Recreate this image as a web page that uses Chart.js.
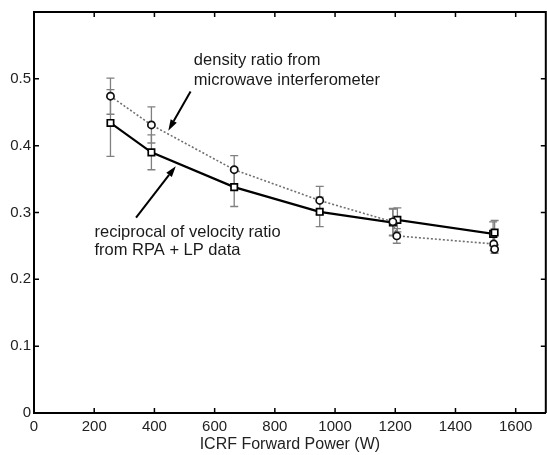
<!DOCTYPE html>
<html><head><meta charset="utf-8">
<script src="https://cdn.jsdelivr.net/npm/chart.js@4"></script>
<style>html,body{margin:0;padding:0;background:#fff;overflow:hidden}#wrap{width:552px;height:455px}</style>
</head><body><div id="wrap"><canvas id="c" width="552" height="455"></canvas></div>
<script>
// tick labels
const xTicks = [0, 200, 400, 600, 800, 1000, 1200, 1400, 1600];
const yTicks = [0, 0.1, 0.2, 0.3, 0.4, 0.5];

// density ratio from microwave interferometer (circles, dotted)
const densityX   = [254, 390, 665, 949, 1192, 1205, 1527, 1530];
const densityY   = [0.474, 0.431, 0.364, 0.318, 0.286, 0.265, 0.253, 0.245];
const densityErr = [0.027, 0.027, 0.021, 0.021, 0.020, 0.011, 0.010, 0.006];

// reciprocal of velocity ratio from RPA + LP data (squares, solid)
const velocityX   = [254, 390, 665, 949, 1192, 1207, 1525, 1530];
const velocityY   = [0.434, 0.390, 0.338, 0.301, 0.285, 0.289, 0.268, 0.270];
const velocityErr = [0.050, 0.026, 0.029, 0.022, 0.020, 0.018, 0.018, 0.018];

const FONT = 'Liberation Sans, Arial, sans-serif';

const annotations = [
  { lines: ['density ratio from', 'microwave interferometer'], x: 531, y: 0.528, dy: 0.0298,
    arrowFrom: { x: 520, y: 0.481 }, arrowTo: { x: 446, y: 0.4225 } },
  { lines: ['reciprocal of velocity ratio', 'from RPA + LP data'], x: 201, y: 0.2694, dy: 0.0268,
    arrowFrom: { x: 339, y: 0.2922 }, arrowTo: { x: 471, y: 0.3693 } }
];

const errSets = [
  { X: densityX, Y: densityY, E: densityErr },
  { X: velocityX, Y: velocityY, E: velocityErr }
];

const framePlugin = {
  id: 'frame',
  beforeDatasetsDraw(chart) {
    const { ctx, scales: { x, y } } = chart;
    ctx.save();
    ctx.strokeStyle = '#808080';
    ctx.lineWidth = 1.3;
    errSets.forEach(s => {
      s.X.forEach((xv, i) => {
        const px = x.getPixelForValue(xv);
        const top = y.getPixelForValue(s.Y[i] + s.E[i]);
        const bot = y.getPixelForValue(s.Y[i] - s.E[i]);
        ctx.beginPath();
        ctx.moveTo(px, top); ctx.lineTo(px, bot);
        ctx.moveTo(px - 4, top); ctx.lineTo(px + 4, top);
        ctx.moveTo(px - 4, bot); ctx.lineTo(px + 4, bot);
        ctx.stroke();
      });
    });
    ctx.restore();
  },
  afterDraw(chart) {
    const { ctx, chartArea: a, scales: { x, y } } = chart;
    ctx.save();
    ctx.strokeStyle = '#000';
    ctx.lineWidth = 2;
    ctx.beginPath();
    ctx.moveTo(a.left - 1, a.top); ctx.lineTo(a.right, a.top); ctx.lineTo(a.right, a.bottom);
    ctx.stroke();
    ctx.lineWidth = 1.5;
    ctx.beginPath();
    xTicks.forEach(v => {
      const px = x.getPixelForValue(v);
      ctx.moveTo(px, a.bottom); ctx.lineTo(px, a.bottom - 5);
      ctx.moveTo(px, a.top); ctx.lineTo(px, a.top + 5);
    });
    yTicks.forEach(v => {
      const py = y.getPixelForValue(v);
      ctx.moveTo(a.left, py); ctx.lineTo(a.left + 5, py);
      ctx.moveTo(a.right, py); ctx.lineTo(a.right - 5, py);
    });
    ctx.stroke();

    // annotations
    ctx.fillStyle = '#1a1a1a';
    ctx.font = '16.5px ' + FONT;
    ctx.textAlign = 'left';
    ctx.textBaseline = 'middle';
    annotations.forEach(an => {
      an.lines.forEach((t, i) => {
        ctx.fillText(t, x.getPixelForValue(an.x), y.getPixelForValue(an.y - i * an.dy));
      });
      const x1 = x.getPixelForValue(an.arrowFrom.x), y1 = y.getPixelForValue(an.arrowFrom.y);
      const x2 = x.getPixelForValue(an.arrowTo.x), y2 = y.getPixelForValue(an.arrowTo.y);
      const ang = Math.atan2(y2 - y1, x2 - x1);
      const L = 11, W = 3.5;
      const bx = x2 - L * Math.cos(ang), by = y2 - L * Math.sin(ang);
      ctx.strokeStyle = '#000';
      ctx.lineWidth = 2;
      ctx.beginPath(); ctx.moveTo(x1, y1); ctx.lineTo(bx, by); ctx.stroke();
      ctx.fillStyle = '#000';
      ctx.beginPath();
      ctx.moveTo(x2, y2);
      ctx.lineTo(bx + W * Math.sin(ang), by - W * Math.cos(ang));
      ctx.lineTo(bx - W * Math.sin(ang), by + W * Math.cos(ang));
      ctx.closePath(); ctx.fill();
      ctx.fillStyle = '#1a1a1a';
    });
    ctx.restore();
  }
};

new Chart(document.getElementById('c'), {
  type: 'scatter',
  data: {
    datasets: [
      {
        label: 'density ratio from microwave interferometer',
        data: densityX.map((v, i) => ({ x: v, y: densityY[i] })),
        showLine: true,
        borderColor: '#707070',
        borderWidth: 1.6,
        borderDash: [2, 2],
        pointStyle: 'circle',
        pointRadius: 3.6,
        pointBorderColor: '#111',
        pointBorderWidth: 1.7,
        pointBackgroundColor: '#fff'
      },
      {
        label: 'reciprocal of velocity ratio from RPA + LP data',
        data: velocityX.map((v, i) => ({ x: v, y: velocityY[i] })),
        showLine: true,
        borderColor: '#000',
        borderWidth: 2.2,
        pointStyle: 'rect',
        pointRadius: 4.5,
        pointBorderColor: '#000',
        pointBorderWidth: 1.7,
        pointBackgroundColor: '#fff'
      }
    ]
  },
  options: {
    responsive: false,
    animation: false,
    events: [],
    layout: { padding: { left: 0, top: 9, right: 3, bottom: 0 } },
    plugins: { legend: { display: false }, tooltip: { enabled: false } },
    scales: {
      x: {
        type: 'linear', min: 0, max: 1700,
        afterBuildTicks(s) { s.ticks = xTicks.map(v => ({ value: v })); },
        afterFit(s) { s.height = 42; },
        grid: { display: false, drawTicks: false },
        border: { display: true, color: '#000', width: 2 },
        ticks: { padding: 5, color: '#222', font: { family: FONT, size: 15 }, maxRotation: 0, autoSkip: false,
                 callback: v => String(v) },
        title: { display: true, text: 'ICRF Forward Power (W)', color: '#222',
                 font: { family: FONT, size: 16 }, padding: { top: 0, bottom: 1 } }
      },
      y: {
        type: 'linear', min: 0, max: 0.6,
        afterBuildTicks(s) { s.ticks = yTicks.map(v => ({ value: v })); },
        afterFit(s) { s.width = 34; },
        grid: { display: false, drawTicks: false },
        border: { display: true, color: '#000', width: 2 },
        ticks: { padding: 3, color: '#222', font: { family: FONT, size: 15 },
                 callback: v => String(Math.round(v * 10) / 10) }
      }
    }
  },
  plugins: [framePlugin]
});
</script></body></html>
